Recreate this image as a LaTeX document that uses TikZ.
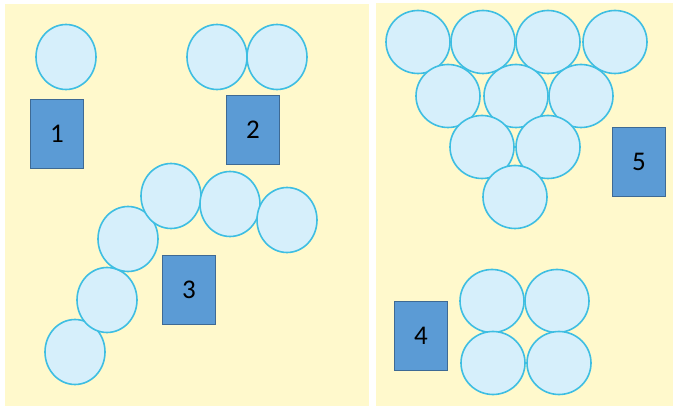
\documentclass[tikz,border=0pt]{standalone}
\usepackage{fontspec}
\setmainfont{Carlito}
\usetikzlibrary{shapes.geometric}

\definecolor{paper}{RGB}{255,249,204}
\definecolor{ballfill}{RGB}{214,239,251}
\definecolor{ballline}{RGB}{62,190,226}
\definecolor{tagfill}{RGB}{91,155,213}
\definecolor{tagline}{RGB}{62,106,148}

\begin{document}
\begin{tikzpicture}[
  x=1pt,y=-1pt,
  panel/.style={fill=paper},
  ball/.style={ellipse,draw=ballline,fill=ballfill,line width=1.6pt,minimum width=60pt,minimum height=65pt,inner sep=0pt},
  wideball/.style={ball,minimum width=64pt,minimum height=63pt},
  tag/.style={rectangle,draw=tagline,fill=tagfill,line width=1.6pt,minimum width=53pt,minimum height=69pt,inner sep=0pt,font=\fontsize{27}{30}\selectfont}
]
\useasboundingbox (0,0) rectangle (673,406);
\fill[panel] (5,4) rectangle (369,406);
\fill[panel] (376,3) rectangle (673,406);

% left panel
\node[ball] (A1) at (66,57) {};
\node[tag] (T1) at (57,134) {1};

\node[ball] (B1) at (217,57) {};
\node[ball] (B2) at (277,57) {};
\node[tag] (T2) at (253,130) {2};

\node[ball] (C1) at (75,352) {};
\node[ball] (C2) at (107,300) {};
\node[ball] (C3) at (128,239) {};
\node[ball] (C4) at (171,196) {};
\node[ball] (C5) at (230,204) {};
\node[ball] (C6) at (287,220) {};
\node[tag] (T3) at (189,290) {3};

% right panel
\node[wideball] (D1) at (418,42) {};
\node[wideball] (D2) at (483,42) {};
\node[wideball] (D3) at (548,42) {};
\node[wideball] (D4) at (615,42) {};
\node[wideball] (D5) at (448,96) {};
\node[wideball] (D6) at (516,96) {};
\node[wideball] (D7) at (581,96) {};
\node[wideball] (D8) at (482,147) {};
\node[wideball] (D9) at (548,147) {};
\node[wideball] (D10) at (515,197) {};
\node[tag] (T5) at (639,162) {5};

\node[wideball] (E1) at (492,301) {};
\node[wideball] (E2) at (557,301) {};
\node[wideball] (E3) at (493,363) {};
\node[wideball] (E4) at (559,363) {};
\node[tag] (T4) at (421,336) {4};
\end{tikzpicture}
\end{document}
